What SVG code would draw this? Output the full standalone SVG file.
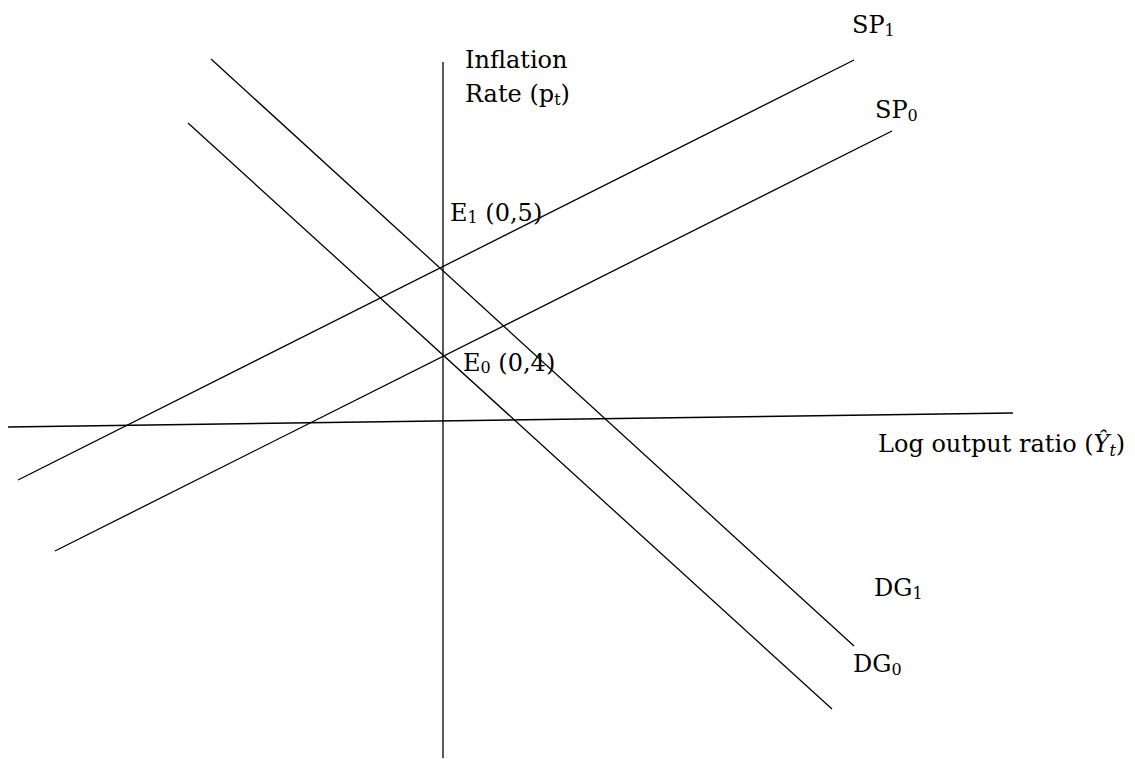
<svg xmlns="http://www.w3.org/2000/svg" width="1135" height="759" viewBox="0 0 1135 759">
<style>
  .ln { stroke: #000; stroke-width: 1.3; fill: none; }
  .ax { stroke: #000; stroke-width: 1.6; fill: none; }
  text { font-family: "DejaVu Serif", "Liberation Serif", serif; font-size: 24px; fill: #000; }
  .sub { font-size: 16px; }
</style>
<rect width="1135" height="759" fill="#fff"/>
<g id="connectors">
  <line class="ln" x1="443" y1="62" x2="443" y2="758"/>
  <line class="ax" x1="8" y1="427" x2="1013" y2="413"/>
  <line class="ln" x1="18" y1="480" x2="854" y2="60"/>
  <line class="ln" x1="55" y1="551" x2="892" y2="131"/>
  <line class="ln" x1="211" y1="59" x2="854" y2="646"/>
  <line class="ln" x1="188" y1="123" x2="832" y2="709"/>
</g>
<g id="label-yaxis">
  <text x="465" y="68">Inflation</text>
  <text x="465" y="102">Rate (p<tspan class="sub" dy="3">t</tspan><tspan dy="-3">)</tspan></text>
</g>
<g id="label-sp1"><text x="852" y="33">SP<tspan class="sub" dy="3">1</tspan></text></g>
<g id="label-sp0"><text x="875" y="118">SP<tspan class="sub" dy="3">0</tspan></text></g>
<g id="label-e1"><text x="450" y="221">E<tspan class="sub" dy="2">1</tspan><tspan dy="-2"> (0,5)</tspan></text></g>
<g id="label-e0"><text x="463" y="371">E<tspan class="sub" dy="2">0</tspan><tspan dy="-2"> (0,4)</tspan></text></g>
<g id="label-xaxis"><text x="878" y="452">Log output ratio (<tspan font-style="italic">Ŷ</tspan><tspan class="sub" font-style="italic" dy="4">t</tspan><tspan dy="-4">)</tspan></text></g>
<g id="label-dg1"><text x="874" y="596">DG<tspan class="sub" dy="3">1</tspan></text></g>
<g id="label-dg0"><text x="853" y="672">DG<tspan class="sub" dy="3">0</tspan></text></g>
</svg>
